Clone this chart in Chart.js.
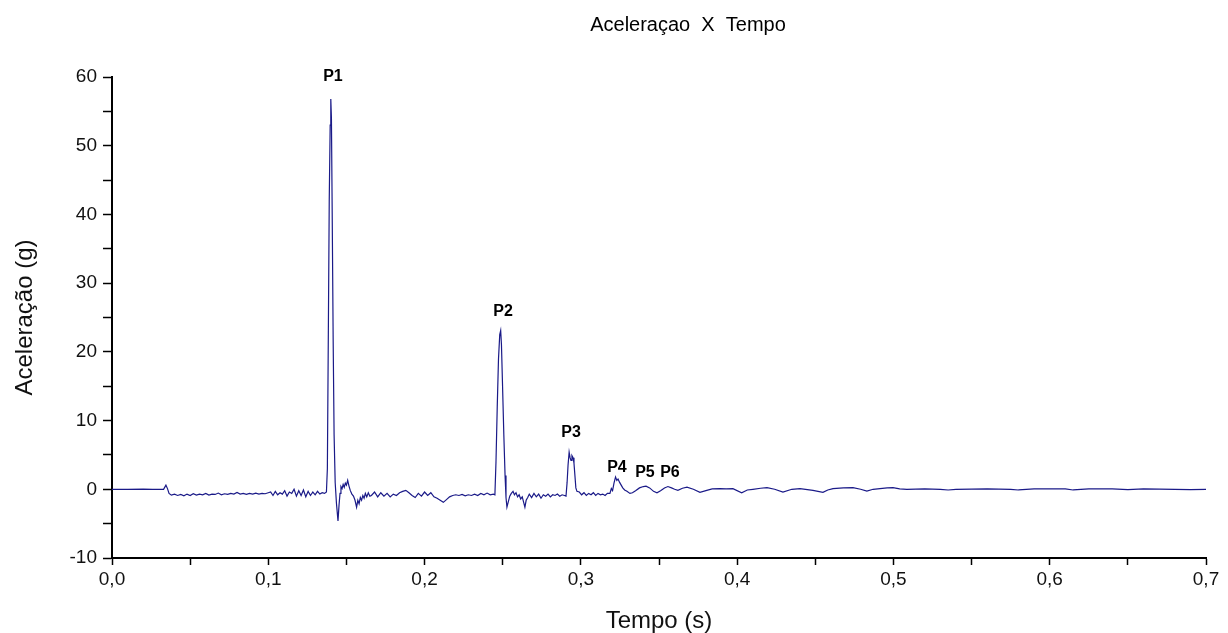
<!DOCTYPE html>
<html><head><meta charset="utf-8">
<script src="https://cdn.jsdelivr.net/npm/chart.js@4.4.0/dist/chart.umd.min.js"></script>
<style>html,body{margin:0;padding:0;background:#fff}</style>
</head><body>
<canvas id="c" width="1228" height="633"></canvas>
<script>
const chartTitle = 'Aceleraçao  X  Tempo';
const xTitle = 'Tempo (s)';
const yTitle = 'Aceleração (g)';

const times = [
0,0.010,0.020,0.026,0.033,0.0345,0.0355,0.0365,
0.038,0.040,0.042,0.044,0.046,0.048,0.050,0.052,0.054,0.056,0.058,0.060,0.062,0.064,0.066,0.068,0.070,0.072,0.074,0.076,0.078,0.080,0.082,0.084,0.086,0.088,0.090,0.092,0.094,0.096,0.098,0.100,
0.1015,0.103,0.1045,0.106,0.1075,0.109,0.1105,0.112,0.1135,0.115,0.1165,0.118,0.1195,0.121,0.1225,0.124,0.1255,0.127,0.1285,0.130,0.1315,0.133,0.1345,0.136,0.1372,
0.1378,0.1384,0.1390,0.1396,0.1400,0.1404,0.1409,0.1415,0.1421,0.1428,0.1436,0.1446,0.1453,0.1459,0.1465,0.1472,0.1479,0.1486,0.1493,0.1500,0.1508,0.1516,0.1525,0.1535,0.1545,0.1555,0.1565,0.1573,0.1581,0.1589,0.1597,0.1605,0.1613,0.1621,0.1630,0.1640,0.1650,
0.166,0.168,0.170,0.172,0.174,0.176,0.178,0.180,0.182,0.184,0.186,0.188,0.190,0.192,0.194,0.196,0.198,0.200,0.202,0.204,0.206,0.208,0.210,0.212,0.214,0.216,0.218,0.220,0.222,0.224,0.226,0.228,0.230,0.232,0.234,0.236,0.238,0.240,0.242,0.244,
0.2450,0.2457,0.2465,0.2473,0.2481,0.2487,0.2492,0.2499,0.2507,0.2515,0.2521,0.2527,0.2536,0.2545,0.2555,0.2566,0.2575,0.2585,0.2595,0.2605,0.2615,0.2625,0.2634,0.2642,0.2650,0.2660,0.2670,
0.2685,0.270,0.2715,0.273,0.2745,0.276,0.2775,0.279,0.2805,0.282,0.2835,0.285,0.2865,0.288,0.2895,
0.2905,0.2912,0.2918,0.2925,0.2931,0.2937,0.2943,0.2950,0.2956,0.2962,0.2968,0.2975,
0.299,0.3005,0.302,0.3035,0.305,0.3065,0.308,0.3095,0.311,0.3125,0.314,0.3155,0.317,
0.3186,0.3195,0.3203,0.3212,0.3222,0.3230,0.3238,0.3248,0.3258,0.3268,0.3280,0.3295,0.3314,0.3330,0.3350,0.3375,0.3400,0.3417,0.3440,0.3465,0.3487,0.3510,0.3535,0.3557,0.3580,0.3600,0.3621,0.3650,0.3679,0.3720,0.3762,0.3800,0.3840,0.3890,0.3930,0.3973,0.4029,0.4065,0.4101,0.4150,0.4191,0.4240,0.4293,0.4350,0.4402,0.4485,0.4549,0.4580,0.4613,0.4680,0.4741,0.4790,0.4830,0.4870,0.4914,0.4960,0.4997,0.5040,0.5086,0.5200,0.5300,0.5350,0.5400,0.5600,0.5750,0.5800,0.5900,0.6100,0.6150,0.6250,0.6400,0.6500,0.6600,0.6800,0.6900,0.7000
];

const accel = [
0,0,0.02,0,0,0.6,0.1,-0.6,
-0.85,-0.7,-0.9,-0.75,-0.95,-0.7,-0.9,-0.65,-0.85,-0.7,-0.8,-0.6,-0.85,-0.7,-0.75,-0.55,-0.8,-0.65,-0.75,-0.6,-0.7,-0.45,-0.7,-0.6,-0.75,-0.6,-0.7,-0.55,-0.7,-0.6,-0.65,-0.5,
-0.4,-0.9,-0.3,-0.8,-0.5,-0.7,-0.2,-1.0,-0.4,-0.6,0.0,-1.0,-0.2,-0.9,-0.1,-1.1,-0.3,-0.9,-0.4,-0.8,-0.3,-0.7,-0.5,-0.6,-0.4,
3,22,42,53,56.8,54,40,22,8,1,-2,-4.6,-2.2,-0.6,0.4,0.1,0.7,0.3,0.9,0.6,1.3,0.5,-0.2,-0.7,-1.0,-1.6,-2.6,-1.6,-2.1,-1.2,-1.6,-0.9,-1.3,-0.6,-1.1,-0.5,-1.0,
-0.9,-0.4,-1.1,-0.5,-1.0,-0.6,-1.1,-0.7,-0.9,-0.5,-0.3,-0.15,-0.5,-0.9,-1.2,-0.6,-1.0,-0.4,-0.9,-0.5,-1.1,-1.3,-1.6,-1.9,-1.5,-1.1,-0.9,-0.8,-0.9,-0.75,-0.95,-0.8,-0.9,-0.7,-0.9,-0.6,-0.8,-0.55,-0.8,-0.7,
-0.8,4,12,19,22.5,23.1,21,15,8,2,-1.2,-2.6,-1.8,-1.0,-0.6,-0.3,-0.8,-0.5,-1.1,-0.8,-1.4,-1.1,-1.9,-2.6,-1.6,-1.2,-0.7,
-1.2,-0.6,-1.1,-0.7,-1.3,-0.8,-1.0,-0.7,-1.1,-0.8,-0.9,-0.7,-1.0,-0.8,-0.9,
-1.0,1.0,3.5,5.4,4.6,4.2,4.9,4.6,3.8,2.0,0.2,-0.3,
-0.4,-0.8,-0.5,-0.9,-0.6,-0.8,-0.5,-0.9,-0.6,-0.8,-0.7,-0.9,-0.6,
-0.6,0.1,-0.2,0.9,1.8,1.3,1.5,1.0,0.6,0.2,-0.1,-0.3,-0.6,-0.5,-0.2,0.2,0.4,0.45,0.2,-0.3,-0.5,-0.2,0.2,0.4,0.2,0.0,-0.15,0.15,0.3,0.0,-0.45,-0.2,0.05,0.1,0.05,0.1,-0.5,-0.1,0.0,0.15,0.25,0.0,-0.4,0.0,0.1,-0.15,-0.45,-0.1,0.1,0.2,0.25,0.0,-0.25,0.0,0.1,0.2,0.25,0.05,0.0,0.05,0.0,-0.1,0.0,0.05,0.0,-0.1,0.05,0.05,-0.1,0.05,0.05,-0.05,0.05,0.0,-0.05,0.0
];

const peakNames = ['P1','P2','P3','P4','P5','P6'];
const peakTimes = [0.1414,0.2502,0.2937,0.3231,0.3410,0.3570];
const peakLabelY = [60,25.9,8.2,3.2,2.5,2.5];

const xMin = 0, xMax = 0.7, xStep = 0.05;
const yMin = -10, yMax = 60, yStep = 5;

const sans = '"Liberation Sans", Arial, sans-serif';

const peakLabelPlugin = {
  id: 'peakLabels',
  afterDatasetsDraw(chart) {
    const {ctx, scales} = chart;
    ctx.save();
    ctx.font = 'bold 16px ' + sans;
    ctx.fillStyle = '#000';
    ctx.textAlign = 'center';
    ctx.textBaseline = 'middle';
    peakNames.forEach((n, i) => {
      ctx.fillText(n, scales.x.getPixelForValue(peakTimes[i]), scales.y.getPixelForValue(peakLabelY[i]));
    });
    ctx.restore();
  }
};

const titlePlugin = {
  id: 'topTitle',
  afterDraw(chart) {
    const {ctx} = chart;
    ctx.save();
    ctx.font = '20px ' + sans;
    ctx.fillStyle = '#000';
    ctx.textAlign = 'center';
    ctx.textBaseline = 'middle';
    ctx.fillText(chartTitle, 688, 25);
    ctx.restore();
  }
};

new Chart(document.getElementById('c'), {
  type: 'line',
  data: {
    datasets: [{
      data: times.map((t, i) => ({x: t, y: accel[i]})),
      borderColor: '#1a1a88',
      borderWidth: 1.2,
      pointRadius: 0,
      tension: 0,
      fill: false
    }]
  },
  options: {
    responsive: false,
    animation: false,
    events: [],
    layout: {padding: {top: 77, right: 22, left: 0, bottom: 0}},
    plugins: {legend: {display: false}, tooltip: {enabled: false}, title: {display: false}},
    scales: {
      x: {
        type: 'linear', min: xMin, max: xMax,
        afterFit(s) { s.height = 75; },
        border: {display: true, color: '#000', width: 2},
        grid: {display: true, drawOnChartArea: false, drawTicks: true, tickLength: 7, tickColor: '#000', tickWidth: 1.5},
        ticks: {
          stepSize: xStep, autoSkip: false, maxRotation: 0, padding: 3, color: '#111',
          font: {family: sans, size: 19},
          callback: v => { const k = Math.round(v * 100); return k % 10 === 0 ? (k / 100).toFixed(1).replace('.', ',') : ''; }
        },
        title: {display: true, text: xTitle, color: '#111', font: {family: sans, size: 24, lineHeight: 1}, padding: {top: 0, bottom: 0}}
      },
      y: {
        min: yMin, max: yMax,
        afterFit(s) { s.width = 112; },
        border: {display: true, color: '#000', width: 2},
        grid: {display: true, drawOnChartArea: false, drawTicks: true, tickLength: 9, tickColor: '#000', tickWidth: 1.5},
        ticks: {
          stepSize: yStep, autoSkip: false, padding: 6, color: '#111',
          font: {family: sans, size: 19},
          callback: v => (Math.round(v) % 10 === 0 ? String(Math.round(v)) : '')
        },
        title: {display: true, text: yTitle, color: '#111', font: {family: sans, size: 24, lineHeight: 1.2}, padding: {top: 11, bottom: 0}}
      }
    }
  },
  plugins: [peakLabelPlugin, titlePlugin]
});
</script>
</body></html>
